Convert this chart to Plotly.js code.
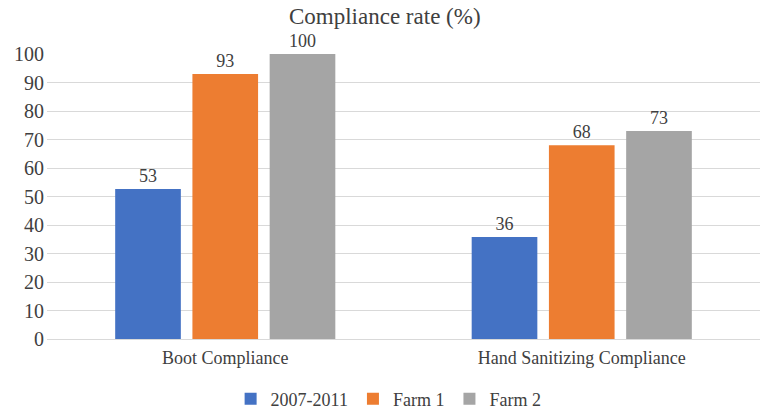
<!DOCTYPE html>
<html>
<head>
<meta charset="utf-8">
<script src="https://cdn.plot.ly/plotly-3.0.1.min.js"></script>
<style>
  html, body { margin: 0; padding: 0; background: #fff; }
  #myDiv { width: 765px; height: 414px; }
</style>
</head>
<body>
<div id="myDiv"></div>
<script>
var categories = ["Boot Compliance", "Hand Sanitizing Compliance"];
var seriesNames = ["2007-2011", "Farm 1", "Farm 2"];
var period0711 = [52.6, 35.8];
var farm1 = [93, 68];
var farm2 = [100, 73];
var colors = ["#4472C4", "#ED7D31", "#A5A5A5"];
var yTicks = [0, 10, 20, 30, 40, 50, 60, 70, 80, 90, 100];

var serif = "Liberation Serif, Times New Roman, serif";
var textColor = "#404040";

var values = [period0711, farm1, farm2];
var data = [];
for (i = 0; i < seriesNames.length; i++) {
  data.push({
    x: categories,
    y: values[i],
    name: seriesNames[i],
    type: "bar",
    marker: { color: colors[i] },
    texttemplate: "%{y:.0f}",
    textposition: "outside",
    cliponaxis: false,
    textfont: { family: serif, size: 18, color: textColor },
    hoverinfo: "none"
  });
}

var layout = {
  width: 765,
  height: 414,
  margin: { l: 47, r: 5, t: 54, b: 75 },
  paper_bgcolor: "#fff",
  plot_bgcolor: "#fff",
  font: { family: serif, size: 18, color: textColor },
  title: {
    text: "Compliance rate (%)",
    font: { family: serif, size: 23, color: textColor },
    x: 0.503,
    xref: "container",
    xanchor: "center",
    y: 0.962,
    yref: "container",
    yanchor: "middle"
  },
  barmode: "group",
  bargap: 0.35,
  bargroupgap: 0.15,
  xaxis: {
    showgrid: false,
    showline: false,
    zeroline: false,
    ticks: "",
    ticklabelstandoff: 6,
    tickfont: { family: serif, size: 18, color: textColor }
  },
  yaxis: {
    range: [0, 100],
    tickvals: yTicks,
    showgrid: true,
    gridcolor: "#D9D9D9",
    gridwidth: 1,
    zeroline: true,
    zerolinecolor: "#D9D9D9",
    zerolinewidth: 1,
    ticks: "",
    ticklabelstandoff: 2,
    tickfont: { family: serif, size: 20, color: textColor }
  },
  showlegend: true,
  legend: {
    orientation: "h",
    x: 0.508,
    xanchor: "center",
    xref: "container",
    y: 0.036,
    yref: "container",
    yanchor: "middle",
    font: { family: serif, size: 18, color: textColor },
    itemwidth: 30
  }
};

Plotly.newPlot("myDiv", data, layout, { staticPlot: true, displayModeBar: false });
</script>
</body>
</html>
